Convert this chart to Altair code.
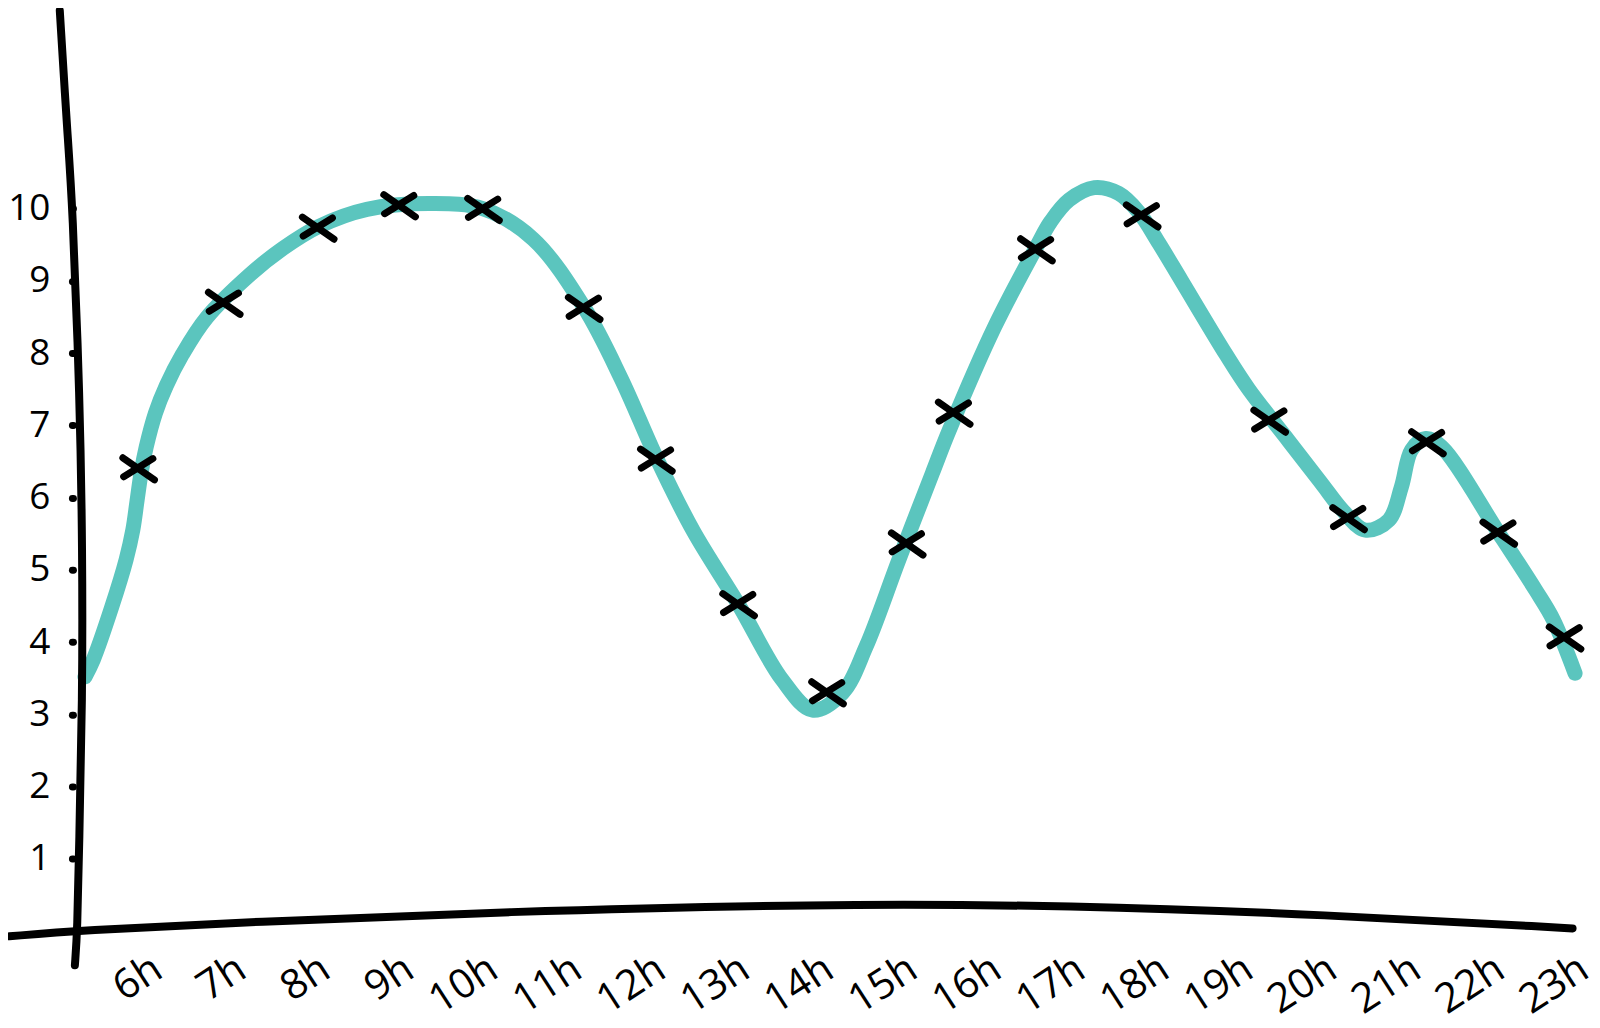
import altair as alt
import pandas as pd

# ---- data ----
hour_ticks = [6, 7, 8, 9, 10, 11, 12, 13, 14, 15, 16, 17, 18, 19, 20, 21, 22, 23]
y_ticks = [1, 2, 3, 4, 5, 6, 7, 8, 9, 10]

marker_x = [5.90, 6.92, 8.04, 9.01, 10.01, 11.21, 12.07, 13.05, 14.11, 15.06,
            15.62, 16.60, 17.86, 19.38, 20.32, 21.26, 22.11, 22.90]
marker_y = [6.41, 8.70, 9.74, 10.05, 10.00, 8.63, 6.53, 4.53, 3.31, 5.37,
            7.18, 9.44, 9.91, 7.07, 5.72, 6.77, 5.52, 4.07]

curve_x = [5.26, 5.36, 5.58, 5.75, 5.83, 5.88, 5.93, 5.99, 6.10, 6.23, 6.42, 6.71,
           7.23, 7.62, 8.04, 8.62, 9.37, 10.00, 10.60, 11.21, 11.65, 12.08, 12.51,
           13.05, 13.57, 13.93, 14.29, 14.57, 14.96, 15.36, 15.56, 16.10, 16.60,
           16.77, 16.99, 17.29, 17.58, 17.82, 18.06, 18.33, 18.86, 19.13, 19.61,
           19.99, 20.26, 20.52, 20.80, 20.95, 21.07, 21.24, 21.43, 22.11, 22.55,
           22.76, 23.02]
curve_y = [3.52, 3.76, 4.49, 5.14, 5.55, 5.95, 6.35, 6.70, 7.17, 7.55, 7.98, 8.49,
           9.09, 9.45, 9.75, 9.99, 10.07, 10.00, 9.58, 8.63, 7.65, 6.53, 5.54,
           4.52, 3.48, 3.06, 3.30, 3.94, 5.14, 6.34, 6.93, 8.36, 9.47,
           9.82, 10.12, 10.29, 10.21, 9.95, 9.52, 9.00, 7.98, 7.50, 6.78,
           6.21, 5.81, 5.55, 5.69, 6.15, 6.66, 6.82, 6.70, 5.51, 4.72,
           4.31, 3.57]

# hand-drawn axis strokes (data units)
xaxis_x = [4.36, 5.17, 7.23, 10.20, 14.01, 17.00, 20.05, 22.99]
xaxis_y = [-0.07, 0.01, 0.13, 0.27, 0.38, 0.36, 0.23, 0.04]
yaxis_x = [4.96, 5.05, 5.11, 5.20, 5.23, 5.23, 5.19, 5.17, 5.14]
yaxis_y = [12.74, 11.04, 10.11, 7.35, 5.28, 3.20, 1.17, 0.01, -0.47]

markers = pd.DataFrame({"x": marker_x, "y": marker_y})
curve = pd.DataFrame({"x": curve_x, "y": curve_y})
xaxis_df = pd.DataFrame({"x": xaxis_x, "y": xaxis_y, "o": list(range(len(xaxis_x)))})
yaxis_df = pd.DataFrame({"x": yaxis_x, "y": yaxis_y, "o": list(range(len(yaxis_x)))})

FONT = "Open Sans"
TEAL = "#5bc5be"

x_scale = alt.Scale(domain=[5.2, 23.15], nice=False, zero=False)
y_scale = alt.Scale(domain=[0, 12.7], nice=False, zero=False)

x_axis = alt.Axis(values=hour_ticks, labelExpr="datum.value + 'h'", title=None,
                  domain=False, ticks=False, tickSize=0, grid=False,
                  labelAngle=-33, labelAlign="right", labelBaseline="top",
                  labelPadding=17, labelFont=FONT, labelFontSize=41,
                  labelColor="#000000", labelOverlap=False)
y_axis = alt.Axis(values=y_ticks, title=None, domain=False, grid=False,
                  ticks=True, tickSize=1, tickWidth=7, tickCap="round",
                  tickColor="#000000", offset=7, labelPadding=22,
                  labelFont=FONT, labelFontSize=37, labelColor="#000000")

X = alt.X("x:Q", scale=x_scale, axis=x_axis)
Y = alt.Y("y:Q", scale=y_scale, axis=y_axis)

x_line = alt.Chart(xaxis_df).mark_line(
    color="#000000", strokeWidth=8, strokeCap="round", interpolate="basis"
).encode(x=X, y=Y, order="o:Q")

y_line = alt.Chart(yaxis_df).mark_line(
    color="#000000", strokeWidth=8, strokeCap="round", interpolate="basis"
).encode(x=X, y=Y, order="o:Q")

teal_line = alt.Chart(curve).mark_line(
    color=TEAL, strokeWidth=15, strokeCap="round", interpolate="catmull-rom"
).encode(x=X, y=Y)

cross_path = "M-1,-0.65L1,0.75M-0.95,0.55L0.9,-0.6"
pts = alt.Chart(markers).mark_point(
    shape=cross_path, size=1000, filled=False, stroke="#000000",
    strokeWidth=7, strokeCap="round", opacity=1
).encode(x=X, y=Y)

chart = alt.layer(teal_line, x_line, y_line, pts).properties(
    width=1507.8, height=918.85,
    background="white",
    autosize=alt.AutoSizeParams(type="none"),
    padding={"left": 72, "top": 4.9, "right": 6, "bottom": 96},
).configure_view(stroke=None)

chart.save("out.html", embed_options={"renderer": "svg", "actions": False})
